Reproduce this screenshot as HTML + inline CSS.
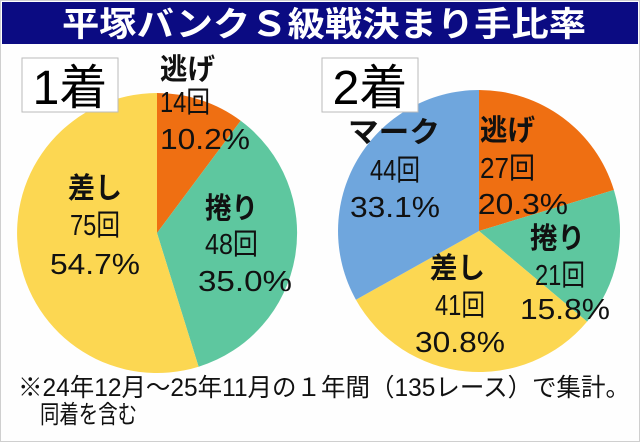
<!DOCTYPE html>
<html><head><meta charset="utf-8"><style>
body{margin:0;width:640px;height:442px;overflow:hidden;background:#fff}
svg{display:block}
text{font-family:"Liberation Sans","Noto Sans CJK JP",sans-serif}
</style></head><body>
<svg width="640" height="442" viewBox="0 0 640 442">
<rect x="0.5" y="0.5" width="639" height="441" fill="#fefefe" stroke="#cfcfcf"/>
<rect x="2" y="2" width="636" height="42" fill="#0b0b82"/>
<text x="62" y="36" textLength="524" lengthAdjust="spacingAndGlyphs" font-size="34" font-weight="bold" fill="#fff">平塚バンクＳ級戦決まり手比率</text>
<path d="M157,233 L157,93 A140,140 0 0 1 240.7,120.7 Z" fill="#ef6f12"/>
<path d="M157,233 L240.7,120.7 A140,140 0 0 1 198.6,366.7 Z" fill="#5ec79f"/>
<path d="M157,233 L198.6,366.7 A140,140 0 1 1 157,93 Z" fill="#fcd752"/>
<path d="M479,231 L479,90 A141,141 0 0 1 613.9,190 Z" fill="#ef6f12"/>
<path d="M479,231 L613.9,190 A141,141 0 0 1 587.1,321.6 Z" fill="#5ec79f"/>
<path d="M479,231 L587.1,321.6 A141,141 0 0 1 355.9,299.7 Z" fill="#fcd752"/>
<path d="M479,231 L355.9,299.7 A141,141 0 0 1 479,90 Z" fill="#6fa6dd"/>
<rect x="22" y="58" width="96" height="54" fill="#fff" stroke="#bbb"/>
<text x="70" y="104" text-anchor="middle" font-size="48" fill="#000">1着</text>
<rect x="322" y="58" width="96" height="54" fill="#fff" stroke="#bbb"/>
<text x="370" y="104" text-anchor="middle" font-size="48" fill="#000">2着</text>
<g font-size="29" fill="#111">
<text x="160" y="79" font-weight="bold" textLength="55" lengthAdjust="spacingAndGlyphs">逃げ</text>
<text x="160" y="112" textLength="50" lengthAdjust="spacingAndGlyphs">14回</text>
<text x="160" y="149" textLength="90" lengthAdjust="spacingAndGlyphs">10.2%</text>
<text x="205" y="218" font-weight="bold" textLength="53" lengthAdjust="spacingAndGlyphs">捲り</text>
<text x="205" y="254" textLength="53" lengthAdjust="spacingAndGlyphs">48回</text>
<text x="198" y="291" textLength="94" lengthAdjust="spacingAndGlyphs">35.0%</text>
<text x="68" y="198" font-weight="bold" textLength="54" lengthAdjust="spacingAndGlyphs">差し</text>
<text x="70" y="235" textLength="50" lengthAdjust="spacingAndGlyphs">75回</text>
<text x="50" y="274" textLength="90" lengthAdjust="spacingAndGlyphs">54.7%</text>
<text x="480" y="140" font-weight="bold" textLength="55" lengthAdjust="spacingAndGlyphs">逃げ</text>
<text x="480" y="178" textLength="55" lengthAdjust="spacingAndGlyphs">27回</text>
<text x="478" y="214" textLength="90" lengthAdjust="spacingAndGlyphs">20.3%</text>
<text x="530" y="248" font-weight="bold" textLength="55" lengthAdjust="spacingAndGlyphs">捲り</text>
<text x="535" y="285" textLength="50" lengthAdjust="spacingAndGlyphs">21回</text>
<text x="520" y="319" textLength="90" lengthAdjust="spacingAndGlyphs">15.8%</text>
<text x="348" y="142" font-weight="bold" textLength="92" lengthAdjust="spacingAndGlyphs">マーク</text>
<text x="370" y="180" textLength="50" lengthAdjust="spacingAndGlyphs">44回</text>
<text x="350" y="217" textLength="90" lengthAdjust="spacingAndGlyphs">33.1%</text>
<text x="430" y="278" font-weight="bold" textLength="55" lengthAdjust="spacingAndGlyphs">差し</text>
<text x="435" y="315" textLength="50" lengthAdjust="spacingAndGlyphs">41回</text>
<text x="415" y="352" textLength="90" lengthAdjust="spacingAndGlyphs">30.8%</text>
</g>
<text x="18" y="396" font-size="25" fill="#111" textLength="612" lengthAdjust="spacingAndGlyphs">※24年12月～25年11月の１年間（135レース）で集計。</text>
<text x="40" y="423" font-size="25" fill="#111" textLength="97" lengthAdjust="spacingAndGlyphs">同着を含む</text>
</svg>
</body></html>
